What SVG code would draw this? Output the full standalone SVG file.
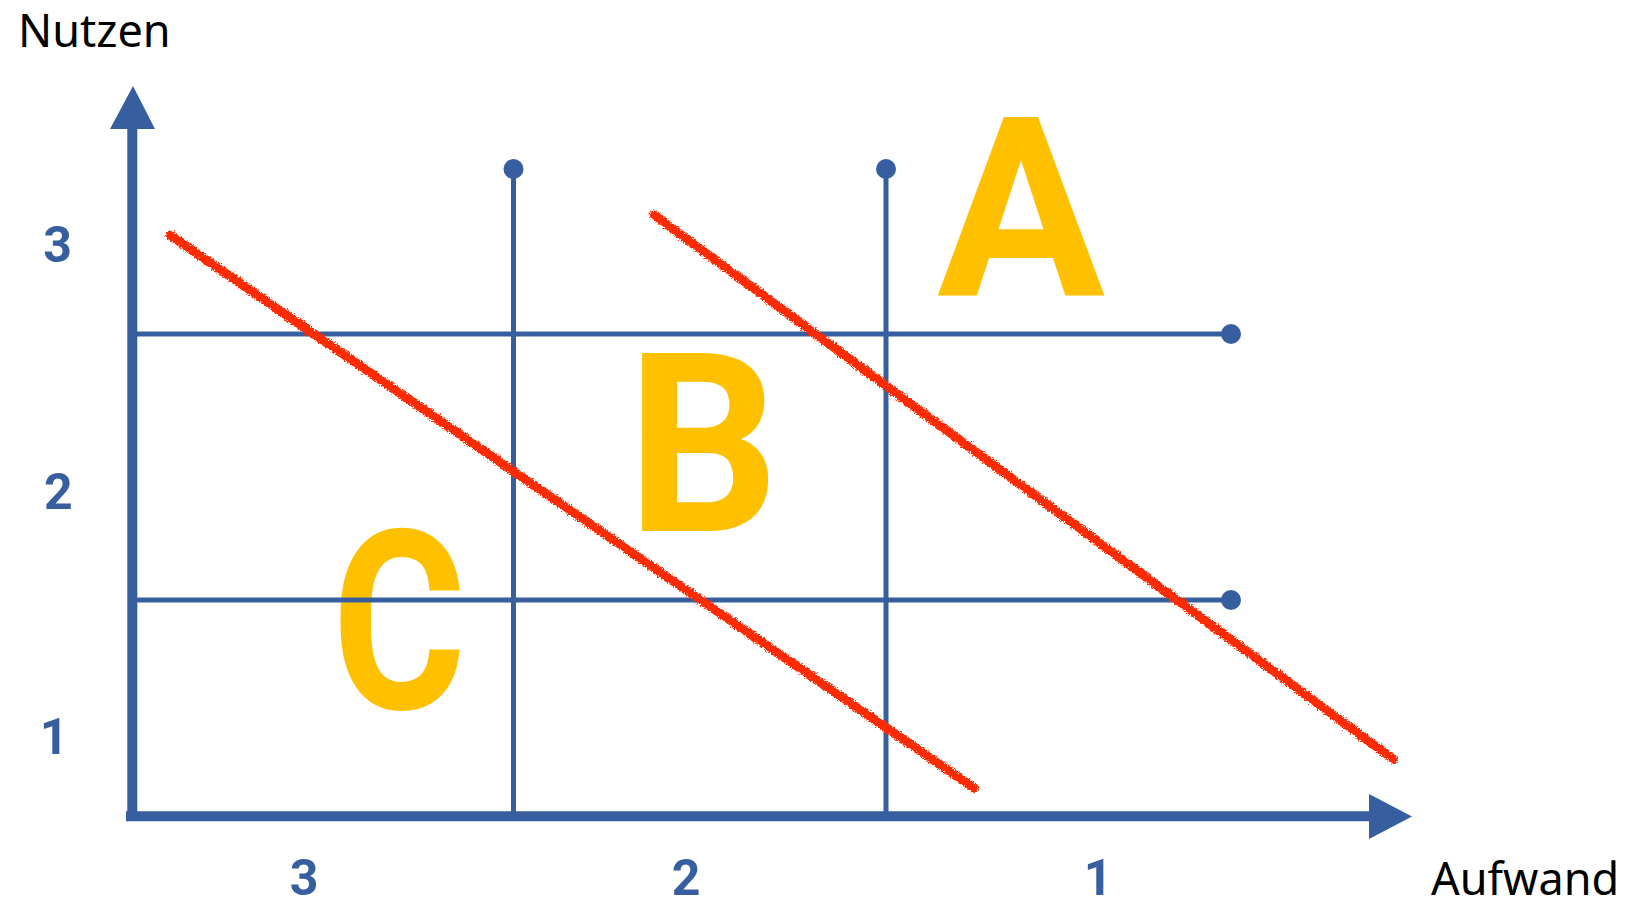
<svg xmlns="http://www.w3.org/2000/svg" width="1638" height="906" viewBox="0 0 1638 906">
<style>
.axis{stroke:#375E9E;stroke-width:10;fill:none}
.grid{stroke:#375E9E;stroke-width:5;fill:none}
.dot{fill:#375E9E}
.head{fill:#375E9E}
.num{font-family:Roboto,"Liberation Sans",sans-serif;font-weight:bold;font-size:50px;fill:#375E9E;text-anchor:middle}
.lbl{font-family:"Noto Sans","Open Sans",sans-serif;font-size:45px;fill:#000}
.big{font-family:Roboto,"Liberation Sans",sans-serif;font-weight:bold;font-size:250px;fill:#FFC000}
.red{stroke:#FF2A00;stroke-width:9;stroke-linecap:round;fill:none;filter:url(#rough)}
</style>
<defs>
<filter id="rough" x="-5%" y="-5%" width="110%" height="110%">
<feTurbulence type="fractalNoise" baseFrequency="0.7" numOctaves="2" seed="3" result="n"/>
<feDisplacementMap in="SourceGraphic" in2="n" scale="6" xChannelSelector="R" yChannelSelector="G"/>
</filter>
</defs>
<g id="letters">
<text class="big" x="1021" y="296" text-anchor="middle">A</text>
<text class="big" x="627" y="531" textLength="152" lengthAdjust="spacingAndGlyphs">B</text>
<text class="big" x="332" y="709" textLength="134" lengthAdjust="spacingAndGlyphs">C</text>
</g>
<g id="connectors">
<line class="grid" x1="513.5" y1="169" x2="513.5" y2="812"/>
<line class="grid" x1="886" y1="169" x2="886" y2="812"/>
<line class="grid" x1="137" y1="334" x2="1231" y2="334"/>
<line class="grid" x1="137" y1="600" x2="1231" y2="600"/>
<circle class="dot" cx="513.5" cy="169" r="10"/>
<circle class="dot" cx="886" cy="169" r="10"/>
<circle class="dot" cx="1231" cy="334" r="10"/>
<circle class="dot" cx="1231" cy="600" r="10"/>
<line class="axis" x1="132.3" y1="126" x2="132.3" y2="816"/>
<polygon class="head" points="133,86 110,129 155,129"/>
<line class="axis" x1="126" y1="816.3" x2="1372" y2="816.3"/>
<polygon class="head" points="1412,816.5 1369,794 1369,839"/>
</g>
<g id="red-lines">
<line class="red" x1="170" y1="235" x2="974" y2="788"/>
<line class="red" x1="654" y1="215" x2="1393" y2="759"/>
</g>
<g id="labels">
<text class="lbl" x="18" y="47">Nutzen</text>
<text class="lbl" x="1431" y="895">Aufwand</text>
<text class="num" x="57.5" y="262">3</text>
<text class="num" x="58.3" y="509">2</text>
<text class="num" x="54" y="754">1</text>
<text class="num" x="304" y="895">3</text>
<text class="num" x="686" y="895">2</text>
<text class="num" x="1098" y="895">1</text>
</g>
</svg>
